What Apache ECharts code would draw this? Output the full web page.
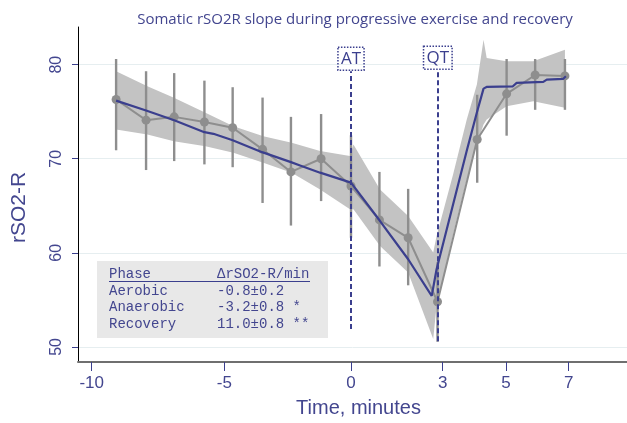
<!DOCTYPE html>
<html><head><meta charset="utf-8">
<script src="https://cdn.jsdelivr.net/npm/echarts@6/dist/echarts.min.js"></script>
<style>html,body{margin:0;padding:0;background:#fff}#c{width:627px;height:423px}</style>
</head><body><div id="c"></div>
<script>
// ---------- data ----------
const xTickLabels = [-10, -5, 0, 3, 5, 7];
const yTickLabels = [50, 60, 70, 80];

const obsTime = [-9.08, -7.95, -6.89, -5.75, -4.67, -3.49, -2.37, -1.18, 0, 0.93, 1.87, 2.83, 4.09, 5.02, 5.93, 6.88];
const obsMean = [76.3, 74.1, 74.45, 73.9, 73.3, 71.0, 68.6, 70.0, 67.1, 63.5, 61.6, 54.8, 72.05, 76.9, 78.9, 78.8];
const obsLow  = [70.9, 68.8, 69.75, 69.4, 69.1, 65.3, 62.9, 65.5, 61.6, 58.55, 56.55, 50.55, 67.45, 72.45, 75.2, 75.2];
const obsHigh = [80.6, 79.3, 79.1, 78.3, 77.6, 76.5, 74.45, 74.75, 72.5, 68.6, 66.8, 59.0, 76.8, 80.6, 80.6, 80.6];

const fitTime  = [-9.08, -7.95, -6.89, -5.75, -5.41, -4.67, -3.51, -2.37, -2.01, -1.22, 0, 0.95, 1.87, 2.64, 2.80, 3.77, 4.08, 4.29, 4.40, 5.22, 5.34, 6.19, 6.30, 6.82, 6.91];
const fitValue = [76.18, 75.12, 74.09, 72.82, 72.65, 71.97, 70.70, 69.64, 69.29, 68.52, 67.46, 63.38, 59.32, 55.43, 58.26, 70.99, 74.91, 77.45, 77.64, 77.70, 78.06, 78.17, 78.41, 78.48, 78.76];

const bandTime = [-9.08, -7.90, -6.90, -5.71, -4.64, -3.46, -2.34, -1.22, -0.04, 0.08, 0.95, 1.87, 2.69, 2.80, 3.33, 3.76, 4.08, 4.29, 4.39, 5.02, 5.87, 6.88];
const bandHigh = [79.29, 77.70, 76.47, 74.88, 73.46, 72.40, 71.70, 70.81, 70.28, 71.52, 66.74, 63.91, 60.03, 61.79, 68.34, 74.17, 77.88, 82.65, 80.71, 80.35, 80.35, 81.59];
const bandLow  = [73.11, 72.58, 71.87, 71.34, 70.64, 69.58, 68.52, 66.74, 64.62, 64.62, 60.73, 57.91, 50.84, 54.37, 61.97, 67.80, 71.52, 73.64, 74.17, 75.58, 76.11, 75.41];

const markerNames = ['AT', 'QT'];
const markerTime  = [0, 2.84];
const markerLow   = [51.9, 50.6];
const markerHigh  = [79.3, 79.4];

const tableHeader = ['Phase', '\u0394rSO2-R/min'];
const phaseNames  = ['Aerobic', 'Anaerobic', 'Recovery'];
const phaseSlopes = ['-0.8\u00b10.2', '-3.2\u00b10.8 *', '11.0\u00b10.8 **'];

// ---------- layout: non-uniform time axis (axis units) ----------
const xTickAxisPos = [13.7, 146.3, 273, 364.7, 428, 490.7];
function warp(t) {
  const a = xTickLabels, p = xTickAxisPos;
  let i = 0;
  while (i < a.length - 2 && t > a[i + 1]) i++;
  return p[i] + (t - a[i]) * (p[i + 1] - p[i]) / (a[i + 1] - a[i]);
}
const tickPosVals = xTickLabels.map(warp);
function tickLabelOf(v) {
  let best = 0;
  tickPosVals.forEach((q, i) => { if (Math.abs(q - v) < Math.abs(tickPosVals[best] - v)) best = i; });
  return String(xTickLabels[best]);
}

const NAVY = '#3b3f8e';
const TXT = '#43468f';
const GREY = '#8e8e8e';

const chart = echarts.init(document.getElementById('c'), null, {renderer: 'canvas'});

const markerData = markerNames.map((n, i) => [
  {coord: [warp(markerTime[i]), markerLow[i]], name: n},
  {coord: [warp(markerTime[i]), markerHigh[i]]}
]);

const option = {
  animation: false,
  backgroundColor: '#fff',
  title: {
    text: 'Somatic rSO2R slope during progressive exercise and recovery',
    left: 350, top: 7, textAlign: 'center',
    textStyle: {fontFamily: 'Open Sans', fontSize: 15, fontWeight: 'normal', color: TXT}
  },
  grid: {left: 78, right: 0, top: 27, bottom: 60},
  xAxis: {
    type: 'value', min: 0, max: 549,
    name: 'Time, minutes', nameLocation: 'middle', nameGap: 36,
    nameTextStyle: {fontFamily: 'Liberation Sans', fontSize: 20, color: TXT, padding: [0, 0, 0, 12]},
    axisLine: {show: true, onZero: false, lineStyle: {color: '#6f6f6f', width: 2}},
    axisTick: {show: true, customValues: tickPosVals, length: 9, lineStyle: {color: NAVY, width: 1}},
    axisLabel: {customValues: tickPosVals, formatter: v => tickLabelOf(v), margin: 13,
      fontFamily: 'Liberation Sans', fontSize: 17, color: TXT},
    splitLine: {show: false}
  },
  yAxis: {
    type: 'value', min: 48.4, max: 84,
    name: 'rSO2-R', nameLocation: 'middle', nameGap: 48,
    nameTextStyle: {fontFamily: 'Liberation Sans', fontSize: 21, color: TXT, padding: [0, 26, 0, 0]},
    axisLine: {show: true, lineStyle: {color: '#000', width: 1}},
    axisTick: {show: true, customValues: yTickLabels, length: 6, lineStyle: {color: NAVY}},
    axisLabel: {customValues: yTickLabels, rotate: 90, margin: 13,
      fontFamily: 'Liberation Sans', fontSize: 16, color: TXT},
    splitLine: {show: true, lineStyle: {color: '#e6eef0', width: 1}}
  },
  series: [
    {
      type: 'custom', silent: true, z: 1,
      data: [[warp(bandTime[0]), bandLow[0]]],
      encode: {x: 0, y: 1},
      renderItem: (params, api) => {
        const pts = [];
        for (let i = 0; i < bandTime.length; i++) pts.push(api.coord([warp(bandTime[i]), bandHigh[i]]));
        for (let i = bandTime.length - 1; i >= 0; i--) pts.push(api.coord([warp(bandTime[i]), bandLow[i]]));
        return {type: 'polygon', shape: {points: pts}, style: {fill: '#c3c3c3'}};
      }
    },
    {
      type: 'custom', silent: true, z: 2,
      data: obsTime.map((t, i) => [warp(t), obsLow[i], obsHigh[i]]),
      encode: {x: 0, y: [1, 2]},
      renderItem: (params, api) => {
        const a = api.coord([api.value(0), api.value(1)]);
        const b = api.coord([api.value(0), api.value(2)]);
        return {type: 'line', shape: {x1: a[0], y1: a[1], x2: b[0], y2: b[1]},
          style: {stroke: GREY, lineWidth: 2.4}};
      }
    },
    {
      type: 'line', z: 3, silent: true,
      data: obsTime.map((t, i) => [warp(t), obsMean[i]]),
      symbol: 'circle', symbolSize: 9,
      itemStyle: {color: GREY},
      lineStyle: {color: GREY, width: 2}
    },
    {
      type: 'line', z: 4, silent: true,
      data: fitTime.map((t, i) => [warp(t), fitValue[i]]),
      symbol: 'none',
      lineStyle: {color: NAVY, width: 2.2},
      markLine: {
        silent: true, symbol: ['none', 'none'],
        lineStyle: {color: NAVY, type: [5, 3], width: 2},
        label: {
          show: true, position: 'end', distance: 1,
          formatter: p => p.name,
          fontFamily: 'Open Sans', fontSize: 17, color: NAVY,
          borderColor: NAVY, borderWidth: 1.5, borderType: 'dotted',
          padding: [1, 3, 0, 3], lineHeight: 22
        },
        data: markerData
      }
    }
  ],
  graphic: [{
    type: 'group', left: 97, top: 261,
    children: [
      {type: 'rect', shape: {x: 0, y: 0, width: 231, height: 77}, style: {fill: '#e8e8e8'}},
      {type: 'text', x: 12, y: 13, style: {text: tableHeader[0], font: '14px "Liberation Mono"', fill: TXT, verticalAlign: 'middle'}},
      {type: 'text', x: 120, y: 13, style: {text: tableHeader[1], font: '14px "Liberation Mono"', fill: TXT, verticalAlign: 'middle'}},
      {type: 'line', shape: {x1: 12, y1: 20.5, x2: 213, y2: 20.5}, style: {stroke: NAVY, lineWidth: 1}},
      ...phaseNames.flatMap((n, i) => [
        {type: 'text', x: 12, y: 30 + i * 16.7, style: {text: n, font: '14px "Liberation Mono"', fill: TXT, verticalAlign: 'middle'}},
        {type: 'text', x: 120, y: 30 + i * 16.7, style: {text: phaseSlopes[i], font: '14px "Liberation Mono"', fill: TXT, verticalAlign: 'middle'}}
      ])
    ]
  }]
};
chart.setOption(option);
</script>
</body></html>
